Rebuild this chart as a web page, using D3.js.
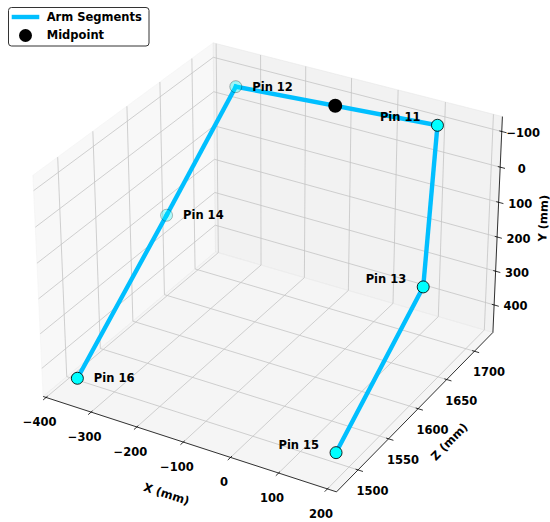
<!DOCTYPE html>
<html><head><meta charset="utf-8">
<script src="https://cdn.jsdelivr.net/npm/d3@7"></script>
<style>
body{margin:0;background:#fff}
svg{display:block}
text{font-family:"DejaVu Sans",sans-serif;font-weight:bold;fill:#000}
</style>
</head><body>
<svg id="chart" width="550" height="522"></svg>
<script>
// ---------------- data ----------------
const pinNames = ["Pin 11", "Pin 12", "Pin 13", "Pin 14", "Pin 15", "Pin 16"];
const pinX = [104.7, -308.9, 162.8, -366.9, 178.7, -355.1];
const pinY = [-101.8, -93.5, 235.4, 197.1, 442.7, 436.2];
const pinZ = [1717.1, 1700.1, 1650.4, 1629.0, 1495.6, 1482.8];
const armSegments = [["Pin 11", "Pin 12"], ["Pin 11", "Pin 13"], ["Pin 13", "Pin 15"], ["Pin 12", "Pin 14"], ["Pin 14", "Pin 16"]];
const midpointOf = ["Pin 11", "Pin 12"];
const xTicks = [-400, -300, -200, -100, 0, 100, 200];
const yTicks = [-100, 0, 100, 200, 300, 400];
const zTicks = [1500, 1550, 1600, 1650, 1700];
const legendLabels = ["Arm Segments", "Midpoint"];
const axisTitles = ["X (mm)", "Y (mm)", "Z (mm)"];

// ---------------- layout / style ----------------
const S = 2942, CX = 272, CY = 257;
const FS = 11.5;
const armColor = "#00bfff", pinColor = "#00ffff";

const svg = d3.select("#chart");

// autoscale like matplotlib 3D (5% margins + 1/48 pane padding)
function paneLim(vals) {
  const lo = d3.min(vals), hi = d3.max(vals), m = (hi - lo) * 0.05;
  const l0 = lo - m, l1 = hi + m, pad = (l1 - l0) / 48;
  return [l0 - pad, l1 + pad];
}
const aspect = [4, 4, 3].map(d => d * 1.8294640721620434 / Math.sqrt(41));
const hx = aspect[0] / 2, hy = aspect[1] / 2, hz = aspect[2] / 2;

const sx = d3.scaleLinear().domain(paneLim(pinX)).range([-hx, hx]);   // X data -> box x
const sy = d3.scaleLinear().domain(paneLim(pinZ)).range([-hy, hy]);   // Z data -> box depth
const sz = d3.scaleLinear().domain(paneLim(pinY)).range([hz, -hz]);   // Y data -> box vertical (inverted)

// camera (elev 30, azim -60, perspective)
const el = 30 * Math.PI / 180, az = -60 * Math.PI / 180, dist = 10;
const W = [Math.cos(el) * Math.cos(az), Math.cos(el) * Math.sin(az), Math.sin(el)];
const U = [-Math.sin(az), Math.cos(az), 0];
const V = [-Math.sin(el) * Math.cos(az), -Math.sin(el) * Math.sin(az), Math.cos(el)];
const dot = (a, b) => a[0] * b[0] + a[1] * b[1] + a[2] * b[2];
function proj(P) {
  const D = dist - dot(W, P);
  return { x: CX + S * dot(U, P) / D, y: CY - S * dot(V, P) / D, depth: -dist / D };
}
const dataPt = (x, y, z) => proj([sx(x), sy(z), sz(y)]);
const line = d3.line().x(d => d.x).y(d => d.y);

const x0 = -hx, x1 = hx, y0 = -hy, y1 = hy, z0 = -hz, z1 = hz;

// panes
const gP = svg.append("g");
[
  { pts: [[x0, y0, z0], [x0, y1, z0], [x0, y1, z1], [x0, y0, z1]], c: "rgba(242,242,242,0.5)" },
  { pts: [[x0, y1, z0], [x1, y1, z0], [x1, y1, z1], [x0, y1, z1]], c: "rgba(230,230,230,0.5)" },
  { pts: [[x0, y0, z0], [x1, y0, z0], [x1, y1, z0], [x0, y1, z0]], c: "rgba(236,236,236,0.5)" }
].forEach(p => {
  gP.append("path").attr("d", line(p.pts.map(proj)) + "Z")
    .attr("fill", p.c).attr("stroke", p.c).attr("stroke-width", 1);
});

// grid
const gG = svg.append("g").attr("fill", "none").attr("stroke", "#c4c4c4").attr("stroke-width", 0.8);
xTicks.forEach(t => { const X = sx(t); gG.append("path").attr("d", line([[X, y0, z0], [X, y1, z0], [X, y1, z1]].map(proj))); });
zTicks.forEach(t => { const Y = sy(t); gG.append("path").attr("d", line([[x0, Y, z1], [x0, Y, z0], [x1, Y, z0]].map(proj))); });
yTicks.forEach(t => { const Z = sz(t); gG.append("path").attr("d", line([[x1, y1, Z], [x0, y1, Z], [x0, y0, Z]].map(proj))); });

// axis lines
const gA = svg.append("g").attr("stroke", "#000").attr("stroke-width", 0.8).attr("fill", "none");
const axX = [[x0, y0, z0], [x1, y0, z0]], axZ = [[x1, y0, z0], [x1, y1, z0]], axY = [[x1, y1, z0], [x1, y1, z1]];
[axX, axZ, axY].forEach(a => gA.append("path").attr("d", line(a.map(proj))));

// ticks
const dY = 2 * hy * 0.08, dX = 2 * hx * 0.08;
const fmt = d3.format("d");
const gT = svg.append("g");
function tick(pOut, pIn, pEdge, label, off) {
  const a = proj(pOut), b = proj(pIn), e = proj(pEdge);
  gT.append("line").attr("x1", a.x).attr("y1", a.y).attr("x2", b.x).attr("y2", b.y)
    .attr("stroke", "#000").attr("stroke-width", 0.8);
  gT.append("text").attr("x", e.x + off[0]).attr("y", e.y + off[1]).attr("dy", "0.35em")
    .attr("text-anchor", "middle").attr("font-size", FS).text(label);
}
xTicks.forEach(t => { const X = sx(t); tick([X, y0 - 0.2 * dY, z0], [X, y0 + 0.1 * dY, z0], [X, y0, z0], fmt(t), [-6.5, 25]); });
zTicks.forEach(t => { const Y = sy(t); tick([x1 + 0.2 * dX, Y, z0], [x1 - 0.1 * dX, Y, z0], [x1, Y, z0], fmt(t), [14.5, 21]); });
yTicks.forEach(t => { const Z = sz(t); tick([x1 + 0.2 * dX, y1, Z], [x1 - 0.1 * dX, y1, Z], [x1, y1, Z], fmt(t), [21.5, 1.5]); });

// axis titles
function axisTitle(ax, txt, off) {
  const a = proj(ax[0]), b = proj(ax[1]);
  let ang = Math.atan2(b.y - a.y, b.x - a.x) * 180 / Math.PI;
  if (ang > 90) ang -= 180; if (ang < -90) ang += 180;
  const m = proj(ax[0].map((v, i) => (v + ax[1][i]) / 2));
  svg.append("text").attr("transform", `translate(${m.x + off[0]},${m.y + off[1]}) rotate(${ang})`)
    .attr("text-anchor", "middle").attr("dy", "0.35em").attr("font-size", FS).text(txt);
}
axisTitle(axX, axisTitles[0], [-19.6, 51]);
axisTitle(axY, axisTitles[1], [45.6, -8.5]);
axisTitle(axZ, axisTitles[2], [31.1, 32.9]);

// pins
const pins = pinNames.map((n, i) => ({ name: n, x: pinX[i], y: pinY[i], z: pinZ[i], p: dataPt(pinX[i], pinY[i], pinZ[i]) }));
const byName = Object.fromEntries(pins.map(d => [d.name, d]));

// arm segments
const gL = svg.append("g");
armSegments.forEach(([a, b]) => {
  gL.append("path").attr("d", line([byName[a].p, byName[b].p]))
    .attr("stroke", armColor).attr("stroke-width", 4.4).attr("fill", "none").attr("stroke-linecap", "square");
});

// pin markers with depth shading (farther half of the pins fades)
const depths = pins.map(d => d.p.depth).sort(d3.ascending);
const norm = d3.scaleLinear().domain([d3.quantile(depths, 0.5), d3.max(depths)]).range([0, 1]).clamp(true);
const gM = svg.append("g");
pins.slice().sort((a, b) => b.p.depth - a.p.depth).forEach(d => {
  const al = 1 - 0.7 * norm(d.p.depth);
  gM.append("circle").attr("cx", d.p.x).attr("cy", d.p.y).attr("r", 6)
    .attr("fill", pinColor).attr("fill-opacity", al)
    .attr("stroke", "#000").attr("stroke-opacity", al * 0.85).attr("stroke-width", 1);
});

// midpoint
const mA = byName[midpointOf[0]], mB = byName[midpointOf[1]];
const mp = dataPt((mA.x + mB.x) / 2, (mA.y + mB.y) / 2, (mA.z + mB.z) / 2);
svg.append("circle").attr("cx", mp.x).attr("cy", mp.y).attr("r", 7).attr("fill", "#000");

// pin labels
const meanX = d3.mean(pinX);
pins.forEach(d => {
  const right = d.x < meanX;
  svg.append("text").attr("x", d.p.x + (right ? 16.5 : -17)).attr("y", d.p.y + (right ? 0 : -8))
    .attr("dy", "0.35em").attr("text-anchor", right ? "start" : "end").attr("font-size", FS).text(d.name);
});

// legend
const lg = svg.append("g");
lg.append("rect").attr("x", 8.5).attr("y", 7.5).attr("width", 140.5).attr("height", 38.5).attr("rx", 3)
  .attr("fill", "#fff").attr("fill-opacity", 0.8).attr("stroke", "#333").attr("stroke-width", 1);
lg.append("line").attr("x1", 11.7).attr("x2", 39.3).attr("y1", 17).attr("y2", 17)
  .attr("stroke", armColor).attr("stroke-width", 4.4);
lg.append("circle").attr("cx", 25.5).attr("cy", 35.5).attr("r", 6.5).attr("fill", "#000");
legendLabels.forEach((t, i) => {
  lg.append("text").attr("x", 46.7).attr("y", [16.7, 34.6][i]).attr("dy", "0.35em").attr("font-size", FS).text(t);
});
</script>
</body></html>
